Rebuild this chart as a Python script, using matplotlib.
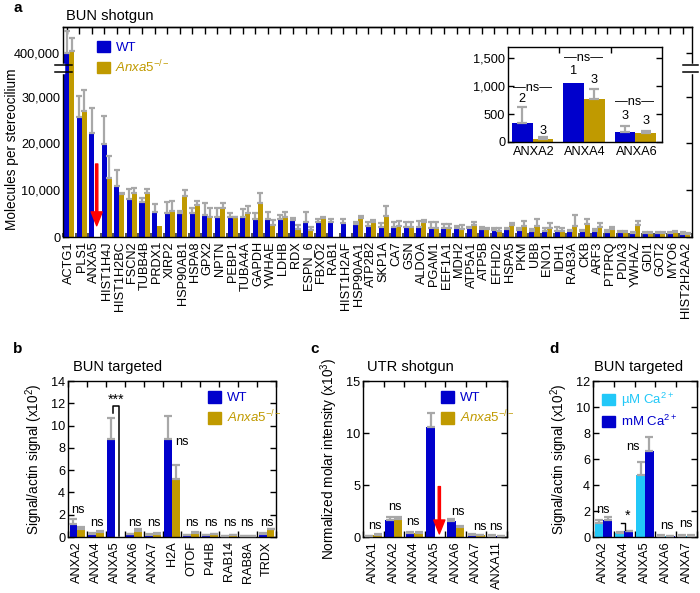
import numpy as np
import matplotlib
matplotlib.use('Agg')
import matplotlib.pyplot as plt
from matplotlib.patches import Patch
from matplotlib.ticker import FixedLocator, FuncFormatter, NullLocator

plt.rcParams['font.family'] = ['Liberation Sans', 'DejaVu Sans']
plt.rcParams['mathtext.fontset'] = 'custom'
plt.rcParams['mathtext.rm'] = 'Liberation Sans'
plt.rcParams['mathtext.it'] = 'Liberation Sans:italic'
plt.rcParams['mathtext.bf'] = 'Liberation Sans:bold'
plt.rcParams['axes.linewidth'] = 1.0

WT_C = '#0000CC'
KO_C = '#C09A00'
ERR_C = '#A8A8A8'
UM_C = '#22C8F8'
FS = 9.2

# ---------------- panel a data ----------------
a_genes = ['ACTG1', 'PLS1', 'ANXA5', 'HIST1H4J', 'HIST1H2BC', 'FSCN2', 'TUBB4B', 'PRDX1',
           'XIRP2', 'HSP90AB1', 'HSPA8', 'GPX2', 'NPTN', 'PEBP1', 'TUBA4A', 'GAPDH', 'YWHAE',
           'LDHB', 'RDX', 'ESPN_6', 'FBXO2', 'RAB1', 'HIST1H2AF', 'HSP90AA1', 'ATP2B2', 'SKP1A',
           'CA7', 'GSN', 'ALDOA', 'PGAM1', 'EEF1A1', 'MDH2', 'ATP5A1', 'ATP5B', 'EFHD2', 'HSPA5',
           'PKM', 'UBB', 'ENO1', 'IDH1', 'RAB3A', 'CKB', 'ARF3', 'PTPRQ', 'PDIA3', 'YWHAZ',
           'GDI1', 'GOT2', 'MYO6', 'HIST2H2AA2']
a_wt = [400000, 25700, 22300, 19800, 11000, 8100, 7500, 5300, 5200, 5100, 5100, 4600, 4300,
        4300, 4200, 3900, 3900, 3900, 3600, 3300, 3200, 3200, 2900, 2800, 2350, 2200, 2200,
        2100, 2100, 1900, 1900, 1850, 1850, 1650, 1550, 1650, 1550, 1350, 1300, 1300, 1300,
        1200, 1200, 1150, 1000, 900, 800, 800, 800, 700]
a_wt_sd = [35000, 4400, 5300, 6000, 3300, 2100, 900, 1800, 2200, 400, 1200, 2700, 1800, 900,
           1700, 1200, 1400, 900, 400, 2000, 700, 600, 900, 400, 900, 700, 1100, 1200, 1300,
           1400, 900, 550, 350, 400, 450, 250, 350, 300, 550, 900, 200, 300, 450, 350, 350,
           250, 350, 350, 250, 300]
a_ko = [403000, 27000, 0, 12500, 9200, 9300, 9500, 2300, 5500, 8800, 6800, 4300, 6300, 4200,
        5100, 7200, 2600, 4300, 1700, 1500, 4000, 0, 0, 4000, 3200, 4500, 2350, 2200, 3100,
        1900, 1900, 1650, 2500, 1650, 1300, 2500, 2400, 2350, 2000, 1350, 2400, 2700, 2100,
        1800, 1000, 2550, 800, 850, 1050, 600]
a_ko_sd = [21500, 4400, 0, 4900, 300, 1200, 800, 0, 2100, 1200, 900, 2000, 1000, 100, 1500,
           2100, 1000, 1000, 800, 600, 200, 0, 0, 500, 400, 2200, 1150, 1100, 500, 1400, 800,
           1000, 800, 350, 700, 400, 1100, 1450, 900, 650, 2200, 1100, 800, 400, 350, 950,
           300, 300, 300, 300]
a_yticks = [0, 10000, 20000, 30000, 400000]

# inset data
in_genes = ['ANXA2', 'ANXA4', 'ANXA6']
in_wt = [335, 1063, 177]
in_wt_sd = [285, 0, 112]
in_ko = [60, 762, 160]
in_ko_sd = [28, 195, 29]
in_n_wt = ['2', '1', '3']
in_n_ko = ['3', '3', '3']
in_n_wt_y = [762, 1270, 472]
in_n_ko_y = [189, 1105, 384]
in_ns_y = [975, 1506, 709]

# ---------------- panel b data ----------------
b_genes = ['ANXA2', 'ANXA4', 'ANXA5', 'ANXA6', 'ANXA7', 'H2A', 'OTOF', 'P4HB', 'RAB14',
           'RAB8A', 'TRDX']
b_wt = [1.2, 0.3, 8.8, 0.25, 0.2, 8.8, 0.15, 0.15, 0.05, 0.05, 0.3]
b_wt_sd = [0.4, 0.1, 1.9, 0.05, 0.05, 2.1, 0.05, 0.05, 0.02, 0.02, 0.1]
b_ko = [0.75, 0.45, 0.0, 0.55, 0.3, 5.2, 0.35, 0.25, 0.15, 0.1, 0.7]
b_ko_sd = [0.15, 0.05, 0.0, 0.15, 0.05, 1.3, 0.1, 0.05, 0.05, 0.03, 0.05]
b_ns = ['ns', 'ns', '', 'ns', 'ns', 'ns', 'ns', 'ns', 'ns', 'ns', 'ns']
b_ns_x = [0.05, 1.02, 2.0, 3.04, 4.05, 5.51, 6.04, 7.05, 8.07, 8.95, 10.0]
b_ns_y = [2.45, 1.3, 0, 1.3, 1.3, 8.5, 1.3, 1.3, 1.3, 1.3, 1.3]

# ---------------- panel c data ----------------
c_genes = ['ANXA1', 'ANXA2', 'ANXA4', 'ANXA5', 'ANXA6', 'ANXA7', 'ANXA11']
c_wt = [0.05, 1.6, 0.35, 10.6, 1.5, 0.15, 0.1]
c_wt_sd = [0.02, 0.3, 0.1, 1.3, 0.2, 0.1, 0.1]
c_ko = [0.2, 1.7, 0.35, 0.0, 1.0, 0.15, 0.05]
c_ko_sd = [0.1, 0.2, 0.1, 0.0, 0.1, 0.05, 0.02]
c_ns = ['ns', 'ns', 'ns', '', 'ns', 'ns', 'ns']
c_ns_x = [0.08, 1.05, 1.94, 3.0, 4.13, 5.18, 5.95]
c_ns_y = [1.1, 2.9, 1.4, 0, 2.4, 0.95, 0.95]

# ---------------- panel d data ----------------
d_genes = ['ANXA2', 'ANXA4', 'ANXA5', 'ANXA6', 'ANXA7']
d_um = [1.1, 0.3, 4.8, 0.08, 0.1]
d_um_sd = [0.2, 0.05, 1.0, 0.04, 0.05]
d_mm = [1.3, 0.45, 6.6, 0.08, 0.1]
d_mm_sd = [0.25, 0.05, 1.1, 0.03, 0.03]
d_ns = ['ns', '', 'ns', 'ns', 'ns']
d_ns_x = [0.0, 1.0, 1.42, 3.04, 3.97]
d_ns_y = [2.1, 0, 6.9, 0.85, 1.0]

W, H = 700, 593
fig = plt.figure(figsize=(7, 5.93), dpi=100)


def rect(x0, y0, x1, y1):
    return [x0 / W, 1 - y1 / H, (x1 - x0) / W, (y1 - y0) / H]


def fx(x):
    return x / W


def fy(y):
    return 1 - y / H


def bars(ax, x, v1, s1, c1, v2, s2, c2, o1, o2, w, cap=2.6):
    v1, s1, v2, s2 = map(np.asarray, (v1, s1, v2, s2))
    ax.bar(x + o1, v1, w, color=c1, zorder=2, linewidth=0)
    ax.bar(x + o2, v2, w, color=c2, zorder=2, linewidth=0)
    for o, v, s in ((o1, v1, s1), (o2, v2, s2)):
        m = s > 0
        ax.errorbar((x + o)[m], v[m], yerr=[np.zeros(m.sum()), s[m]], fmt='none',
                    ecolor=ERR_C, elinewidth=1.6, capsize=cap, capthick=1.6, zorder=3)


def style_small(ax, n, ylim, yticks):
    x = np.arange(n)
    ax.set_xlim(-0.5, n - 0.5)
    ax.set_ylim(*ylim)
    ax.set_xticks(x)
    ax.xaxis.set_minor_locator(FixedLocator(np.arange(n + 1) - 0.5))
    ax.tick_params(axis='x', which='major', length=0, labelsize=FS, rotation=90, pad=3)
    ax.tick_params(axis='x', which='minor', direction='in', length=4, width=1,
                   top=True, bottom=True)
    ax.set_yticks(yticks)
    ax.yaxis.set_minor_locator(NullLocator())
    ax.tick_params(axis='y', direction='in', length=4, width=1, right=True, labelsize=FS, pad=2)


# ================= panel a =================
axA = fig.add_axes(rect(63, 27, 692, 237))
bp_v = [0, 35250, 380800, 441600]
bp_p = [0, 165, 172, 210]


def fwd(y):
    return np.interp(y, bp_v, bp_p)


def inv(p):
    return np.interp(p, bp_p, bp_v)


axA.set_yscale('function', functions=(fwd, inv))
xa = np.arange(len(a_genes))
bars(axA, xa, a_wt, a_wt_sd, WT_C, a_ko, a_ko_sd, KO_C, -0.22, 0.18, 0.4, cap=2.2)
axA.set_xlim(-0.5, len(a_genes) - 0.5)
axA.set_ylim(0, 441600)
axA.yaxis.set_major_locator(FixedLocator(a_yticks))
axA.yaxis.set_minor_locator(NullLocator())
axA.yaxis.set_major_formatter(FuncFormatter(lambda v, p: f'{v:,.0f}'))
axA.tick_params(axis='y', direction='in', length=4, width=1, right=True, labelsize=FS, pad=2)
axA.set_xticks(xa)
axA.set_xticklabels(a_genes)
axA.xaxis.set_minor_locator(FixedLocator(np.arange(len(a_genes) + 1) - 0.5))
axA.tick_params(axis='x', which='major', length=0, labelsize=FS, rotation=90, pad=3)
axA.tick_params(axis='x', which='minor', direction='in', length=3, width=1.2,
                color='#333333', bottom=True, top=False)
secA = axA.secondary_xaxis('top')
secA.set_xticks(xa - 0.22)
secA.set_xticklabels([])
secA.tick_params(axis='x', direction='in', length=5, width=1)
# axis break
ytr = axA.get_yaxis_transform()
for xs in (0, 1):
    axA.plot([xs, xs], [36500, 379500], transform=ytr, color='white', lw=2.5,
             clip_on=False, zorder=6)
for yb in (35250, 380800):
    axA.plot([-0.013, 0.014], [yb, yb], transform=ytr, color='black', lw=1.1,
             clip_on=False, zorder=7)
    axA.plot([0.986, 1.0095], [yb, yb], transform=ytr, color='black', lw=1.1,
             clip_on=False, zorder=7)
axA.annotate('', xy=(2.18, 2400), xytext=(2.18, 15600),
             arrowprops=dict(facecolor='red', edgecolor='red', width=1.6, headwidth=8,
                             headlength=10, shrink=0), zorder=8)
legA = axA.legend([Patch(color=WT_C), Patch(color=KO_C)],
                  ['WT', r'$\mathit{Anxa5}^{-/-}$'], loc='upper left',
                  bbox_to_anchor=(0.054, 0.935), frameon=False, fontsize=FS + 0.3,
                  handlelength=0.95, handleheight=0.95, handletextpad=0.45,
                  labelspacing=0.35, borderpad=0, borderaxespad=0,
                  labelcolor=[WT_C, KO_C])
fig.text(fx(12), fy(149), 'Molecules per stereocilium', rotation=90, ha='center',
         va='center', fontsize=9.8)
fig.text(fx(66), fy(16), 'BUN shotgun', ha='left', va='center', fontsize=10.5)
fig.text(fx(13), fy(0.5), 'a', ha='left', va='top', fontsize=11, fontweight='bold')

# inset
axI = fig.add_axes(rect(508, 47, 662, 142))
axI.set_facecolor('white')
xi = np.arange(len(in_genes))
bars(axI, xi, in_wt, in_wt_sd, WT_C, in_ko, in_ko_sd, KO_C, -0.22, 0.18, 0.4, cap=3.5)
axI.set_xlim(-0.5, 2.5)
axI.set_ylim(0, 1700)
axI.set_yticks([0, 500, 1000, 1500])
axI.yaxis.set_major_formatter(FuncFormatter(lambda v, p: f'{v:,.0f}'))
axI.tick_params(axis='y', direction='in', length=4, width=1, right=True, labelsize=FS, pad=2)
axI.set_xticks(xi)
axI.set_xticklabels(in_genes)
axI.xaxis.set_minor_locator(FixedLocator([0.5, 1.5]))
axI.tick_params(axis='x', which='major', length=0, labelsize=FS, pad=3)
axI.tick_params(axis='x', which='minor', direction='in', length=4, width=1, top=True,
                bottom=False)
for i in range(len(in_genes)):
    axI.text(i - 0.22, in_n_wt_y[i], in_n_wt[i], ha='center', va='center', fontsize=FS)
    axI.text(i + 0.18, in_n_ko_y[i], in_n_ko[i], ha='center', va='center', fontsize=FS)
    axI.text(i - 0.03, in_ns_y[i], '\u2014ns\u2014', ha='center', va='center', fontsize=FS)

# ================= panel b =================
axB = fig.add_axes(rect(68, 381, 276, 537))
xb = np.arange(len(b_genes))
bars(axB, xb, b_wt, b_wt_sd, WT_C, b_ko, b_ko_sd, KO_C, -0.21, 0.21, 0.42)
style_small(axB, len(b_genes), (0, 14), np.arange(0, 15, 2))
axB.set_xticklabels(b_genes)
for i in range(len(b_genes)):
    if b_ns[i]:
        axB.text(b_ns_x[i], b_ns_y[i], b_ns[i], ha='center', va='center', fontsize=FS)
axB.plot([1.9, 1.9, 2.22, 2.22], [11.1, 11.8, 11.8, 0.1], color='black', lw=1.1, zorder=4)
axB.text(2.05, 12.35, '***', ha='center', va='center', fontsize=FS + 1)
axB.set_ylabel(r'Signal/actin signal (x10$^2$)', fontsize=9.8, labelpad=4)
axB.legend([Patch(color=WT_C), Patch(color=KO_C)], ['WT', r'$\mathit{Anxa5}^{-/-}$'],
           loc='upper left', bbox_to_anchor=(0.675, 0.935), frameon=False,
           fontsize=FS + 0.3, handlelength=0.95, handleheight=0.95, handletextpad=0.45,
           labelspacing=0.35, borderpad=0, borderaxespad=0, labelcolor=[WT_C, KO_C])
fig.text(fx(73), fy(367), 'BUN targeted', ha='left', va='center', fontsize=10.5)
fig.text(fx(13), fy(349), 'b', ha='left', va='center', fontsize=11, fontweight='bold')

# ================= panel c =================
axC = fig.add_axes(rect(363, 381, 507, 537))
xc = np.arange(len(c_genes))
bars(axC, xc, c_wt, c_wt_sd, WT_C, c_ko, c_ko_sd, KO_C, -0.21, 0.21, 0.42)
style_small(axC, len(c_genes), (0, 15), [0, 5, 10, 15])
axC.set_xticklabels(c_genes)
for i in range(len(c_genes)):
    if c_ns[i]:
        axC.text(c_ns_x[i], c_ns_y[i], c_ns[i], ha='center', va='center', fontsize=FS)
axC.annotate('', xy=(3.21, 0.3), xytext=(3.21, 4.85),
             arrowprops=dict(facecolor='red', edgecolor='red', width=1.6, headwidth=8,
                             headlength=10, shrink=0), zorder=8)
axC.set_ylabel(r'Normalized molar intensity (x10$^3$)', fontsize=9.8, labelpad=4)
axC.legend([Patch(color=WT_C), Patch(color=KO_C)], ['WT', r'$\mathit{Anxa5}^{-/-}$'],
           loc='upper left', bbox_to_anchor=(0.545, 0.935), frameon=False,
           fontsize=FS + 0.3, handlelength=0.95, handleheight=0.95, handletextpad=0.45,
           labelspacing=0.35, borderpad=0, borderaxespad=0, labelcolor=[WT_C, KO_C])
fig.text(fx(367), fy(367), 'UTR shotgun', ha='left', va='center', fontsize=10.5)
fig.text(fx(310), fy(349), 'c', ha='left', va='center', fontsize=11, fontweight='bold')

# ================= panel d =================
axD = fig.add_axes(rect(593, 381, 697, 537))
xd = np.arange(len(d_genes))
bars(axD, xd, d_um, d_um_sd, UM_C, d_mm, d_mm_sd, WT_C, -0.21, 0.21, 0.42)
style_small(axD, len(d_genes), (0, 12), np.arange(0, 13, 2))
axD.set_xticklabels(d_genes)
for i in range(len(d_genes)):
    if d_ns[i]:
        axD.text(d_ns_x[i], d_ns_y[i], d_ns[i], ha='center', va='center', fontsize=FS)
axD.plot([0.85, 1.05, 1.05], [1.05, 1.05, 0.55], color='black', lw=1.0, zorder=4)
axD.text(1.18, 1.6, '*', ha='center', va='center', fontsize=FS + 1)
axD.set_ylabel(r'Signal/actin signal (x10$^2$)', fontsize=9.8, labelpad=4)
axD.legend([Patch(color=UM_C), Patch(color=WT_C)], [r'µM Ca$^{2+}$', r'mM Ca$^{2+}$'],
           loc='upper left', bbox_to_anchor=(0.09, 0.935), frameon=False,
           fontsize=FS + 0.3, handlelength=0.95, handleheight=0.95, handletextpad=0.45,
           labelspacing=0.35, borderpad=0, borderaxespad=0, labelcolor=[UM_C, WT_C])
fig.text(fx(594), fy(367), 'BUN targeted', ha='left', va='center', fontsize=10.5)
fig.text(fx(549), fy(349), 'd', ha='left', va='center', fontsize=11, fontweight='bold')

fig.savefig('out.png', dpi=100)
